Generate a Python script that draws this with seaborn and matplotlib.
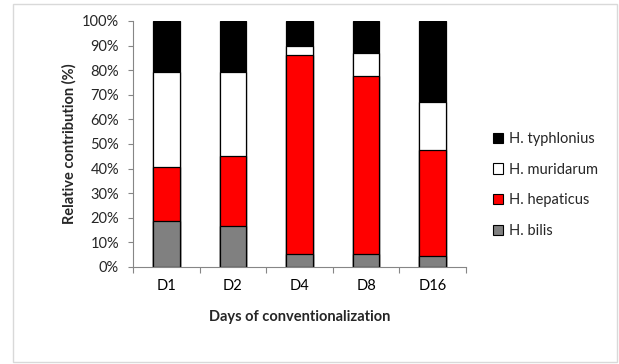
import matplotlib
matplotlib.use("Agg")
import matplotlib.pyplot as plt
from matplotlib.patches import Patch, Rectangle
import numpy as np
import pandas as pd
import seaborn as sns

days = ["D1", "D2", "D4", "D8", "D16"]
h_bilis = [18.9, 16.8, 5.4, 5.4, 4.6]
h_hepaticus = [21.8, 28.5, 80.8, 72.1, 42.8]
h_muridarum = [38.5, 33.9, 3.8, 9.3, 19.6]
h_typhlonius = [20.8, 20.8, 10.0, 13.2, 33.0]

series_names = ["H. bilis", "H. hepaticus", "H. muridarum", "H. typhlonius"]
series_vals = [h_bilis, h_hepaticus, h_muridarum, h_typhlonius]
series_colors = ["#808080", "#FF0000", "#FFFFFF", "#000000"]

sns.set_theme(style="white")
plt.rcParams["font.family"] = ["Lato", "DejaVu Sans"]

fig = plt.figure(figsize=(6.19, 3.64), dpi=100)
ax = fig.add_axes([133 / 619, 1 - 267 / 364, (466 - 133) / 619, (267 - 21) / 364])

cum = np.cumsum(np.array(series_vals), axis=0)
for i in range(len(series_names) - 1, -1, -1):
    df = pd.DataFrame({"day": days, "val": cum[i]})
    sns.barplot(data=df, x="day", y="val", color=series_colors[i], saturation=1,
                width=0.4, edgecolor="black", linewidth=0.9, ax=ax, errorbar=None)

ax.set_xlim(-0.5, 4.5)
ax.set_ylim(0, 100)
ax.set_yticks(np.arange(0, 101, 10))
ax.set_yticklabels([f"{v}%" for v in range(0, 101, 10)])
ax.set_xticks(range(5))
ax.set_xticklabels(days)
ax.tick_params(axis="x", length=0, labelsize=10.5, pad=9, colors="#000000")
ax.tick_params(axis="y", length=3.6, width=0.8, color="#868686", labelsize=10.5, pad=6.5)
ax.yaxis.set_ticks_position("left")
ax.set_xticks(np.arange(-0.5, 4.6, 1), minor=True)
ax.tick_params(axis="x", which="minor", length=4, width=0.8, color="#868686", direction="out")
ax.xaxis.set_ticks_position("bottom")

for s in ["top", "right"]:
    ax.spines[s].set_visible(False)
for s in ["left", "bottom"]:
    ax.spines[s].set_color("#868686")
    ax.spines[s].set_linewidth(0.8)

ax.set_xlabel("Days of conventionalization", fontsize=10.5, fontweight="bold", labelpad=12)
ax.set_ylabel("Relative contribution (%)", fontsize=10.5, fontweight="bold", labelpad=4)

handles = [Patch(facecolor=series_colors[i], edgecolor="black", linewidth=0.8,
                 label=series_names[i]) for i in range(3, -1, -1)]
fig.legend(handles=handles, loc="center left", bbox_to_anchor=(487 / 619, 1 - 185 / 364),
           frameon=False, fontsize=10.5, handlelength=0.7, handleheight=0.7,
           handletextpad=0.4, labelspacing=1.15, borderaxespad=0)

fig.patches.append(Rectangle((13 / 619, 2 / 364), (617 - 13) / 619, (360 - 2) / 364,
                             transform=fig.transFigure, fill=False,
                             edgecolor="#D9D9D9", linewidth=1))

fig.savefig("out.png", dpi=100)
